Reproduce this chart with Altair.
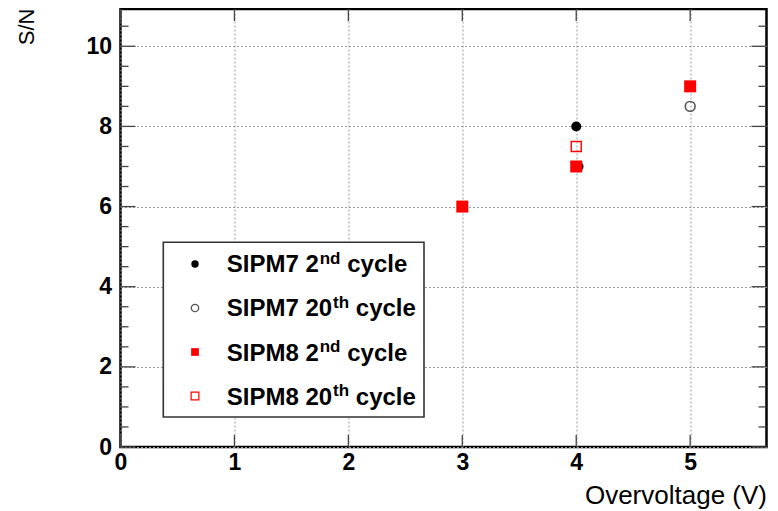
import altair as alt
import pandas as pd

# ---------------- data ----------------
sipm7_2nd_x = [4.02, 4.0]
sipm7_2nd_y = [7.0, 8.0]
sipm7_20th_x = [5.0]
sipm7_20th_y = [8.5]
sipm8_2nd_x = [3.0, 4.0, 5.0]
sipm8_2nd_y = [6.0, 7.0, 9.0]
sipm8_20th_x = [4.0]
sipm8_20th_y = [7.5]

legend_main = ["SIPM7 2", "SIPM7 20", "SIPM8 2", "SIPM8 20"]
legend_sup = ["nd", "th", "nd", "th"]
legend_rest = ["cycle", "cycle", "cycle", "cycle"]

x_ticks = [0, 1, 2, 3, 4, 5]
y_ticks = [0, 2, 4, 6, 8, 10]
y_minor = [0.5, 1, 1.5, 2.5, 3, 3.5, 4.5, 5, 5.5, 6.5, 7, 7.5, 8.5, 9, 9.5, 10.5]

# ---------------- layout ----------------
W, H = 646, 438
X_MAX, Y_MAX = 5.67, 10.93
FONT = "Liberation Sans"

xs = alt.Scale(domain=[0, X_MAX], nice=False, zero=False)
ys = alt.Scale(domain=[0, Y_MAX], nice=False, zero=False)


def df(x, y):
    return pd.DataFrame({"x": x, "y": y})


x_axis = alt.Axis(values=x_ticks, format="d", grid=True, gridDash=[2, 2], gridColor="#9a9a9a",
                  gridWidth=1, ticks=False, domain=False, labelFont=FONT,
                  labelFontSize=23, labelFontWeight="bold", labelColor="black",
                  labelPadding=4, title="Overvoltage (V)", titleFont=FONT,
                  titleFontSize=26, titleFontWeight="normal", titleColor="black",
                  titleAnchor="end", titleAlign="right", titleX=W, titleY=56,
                  titleBaseline="alphabetic", labelFlush=False, labelOverlap=False)
y_axis = alt.Axis(values=y_ticks, format="d", grid=True, gridDash=[2, 2], gridColor="#9a9a9a",
                  gridWidth=1, ticks=False, domain=False, labelFont=FONT,
                  labelFontSize=23, labelFontWeight="bold", labelColor="black",
                  labelPadding=9, title="S/N", titleFont=FONT, titleFontSize=22,
                  titleFontWeight="normal", titleColor="black", titleAngle=270,
                  titleAlign="right", titleBaseline="middle", titleX=-94, titleY=-1,
                  labelFlush=False, labelOverlap=False)

base_grid = alt.Chart(df([0], [0])).mark_point(opacity=0).encode(
    x=alt.X("x:Q", scale=xs, axis=x_axis),
    y=alt.Y("y:Q", scale=ys, axis=y_axis),
)

TICK_COLOR = "#444444"
yt_major = pd.DataFrame({"v": y_ticks})
yt_minor = pd.DataFrame({"v": y_minor})
xt_major = pd.DataFrame({"v": x_ticks})

tick_layers = []
for data, ln in ((yt_major, 15), (yt_minor, 8)):
    tick_layers.append(alt.Chart(data).mark_rule(color=TICK_COLOR, strokeWidth=1.3).encode(
        y=alt.Y("v:Q", scale=ys), x=alt.value(0), x2=alt.value(ln)))
    tick_layers.append(alt.Chart(data).mark_rule(color=TICK_COLOR, strokeWidth=1.3).encode(
        y=alt.Y("v:Q", scale=ys), x=alt.value(W - ln), x2=alt.value(W)))
tick_layers.append(alt.Chart(xt_major).mark_rule(color=TICK_COLOR, strokeWidth=1.3).encode(
    x=alt.X("v:Q", scale=xs), y=alt.value(H - 12), y2=alt.value(H)))
tick_layers.append(alt.Chart(xt_major).mark_rule(color=TICK_COLOR, strokeWidth=1.3).encode(
    x=alt.X("v:Q", scale=xs), y=alt.value(0), y2=alt.value(12)))


def pts(x, y, **kw):
    return alt.Chart(df(x, y)).mark_point(opacity=1, **kw).encode(
        x=alt.X("x:Q", scale=xs), y=alt.Y("y:Q", scale=ys))


styles = [
    dict(shape="circle", filled=True, color="black", size=100),
    dict(shape="circle", filled=False, color="#555555", strokeWidth=1.6, size=95),
    dict(shape="square", filled=True, color="#ff0000", size=144),
    dict(shape="square", filled=False, color="#ff0000", strokeWidth=1.4, size=100),
]
data_layers = [
    pts(sipm7_2nd_x, sipm7_2nd_y, **styles[0]),
    pts(sipm7_20th_x, sipm7_20th_y, **styles[1]),
    pts(sipm8_2nd_x, sipm8_2nd_y, **styles[2]),
    pts(sipm8_20th_x, sipm8_20th_y, **styles[3]),
]

# ---------------- legend ----------------
ARIAL_BOLD = {"S": 667, "I": 278, "P": 667, "M": 833, "7": 556, "8": 556, " ": 278,
              "2": 556, "0": 556, "n": 611, "d": 611, "t": 333, "h": 611}


def text_w(s, size):
    return sum(ARIAL_BOLD.get(c, 556) for c in s) * size / 1000.0


one = pd.DataFrame({"a": [0]})
legend_layers = [
    alt.Chart(one).mark_rect(fill="white", stroke="#333333", strokeWidth=1.6).encode(
        x=alt.value(42.8), x2=alt.value(303.5), y=alt.value(233.3), y2=alt.value(408))
]
leg_styles = [
    dict(shape="circle", filled=True, color="black", size=55),
    dict(shape="circle", filled=False, color="#555555", strokeWidth=1.3, size=55),
    dict(shape="square", filled=True, color="#ff0000", size=60),
    dict(shape="square", filled=False, color="#ff0000", strokeWidth=1.2, size=60),
]
MAIN_SIZE, SUP_SIZE = 24, 17
for i in range(4):
    my = 255 + 44 * i
    by = 263 + 44.3 * i
    tx = 106.2
    legend_layers.append(alt.Chart(one).mark_point(opacity=1, **leg_styles[i]).encode(
        x=alt.value(74.5), y=alt.value(my)))
    legend_layers.append(alt.Chart(one).mark_text(
        text=legend_main[i], font=FONT, fontSize=MAIN_SIZE, fontWeight="bold",
        align="left", baseline="alphabetic", color="black").encode(
        x=alt.value(tx), y=alt.value(by)))
    sx = tx + text_w(legend_main[i], MAIN_SIZE) + 1
    legend_layers.append(alt.Chart(one).mark_text(
        text=legend_sup[i], font=FONT, fontSize=SUP_SIZE, fontWeight="bold",
        align="left", baseline="alphabetic", color="black").encode(
        x=alt.value(sx), y=alt.value(by - 8.5)))
    rx = sx + text_w(legend_sup[i], SUP_SIZE) + text_w(" ", MAIN_SIZE)
    legend_layers.append(alt.Chart(one).mark_text(
        text=legend_rest[i], font=FONT, fontSize=MAIN_SIZE, fontWeight="bold",
        align="left", baseline="alphabetic", color="black").encode(
        x=alt.value(rx), y=alt.value(by)))

chart = alt.layer(base_grid, *tick_layers, *data_layers, *legend_layers).properties(
    width=W, height=H,
    autosize=alt.AutoSizeParams(type="none"),
    padding={"left": 112.5, "top": 1, "right": 3, "bottom": 63},
    background="white",
).configure_view(stroke="black", strokeWidth=2.5)

chart.save("out.html", embed_options={"renderer": "svg", "actions": False})
